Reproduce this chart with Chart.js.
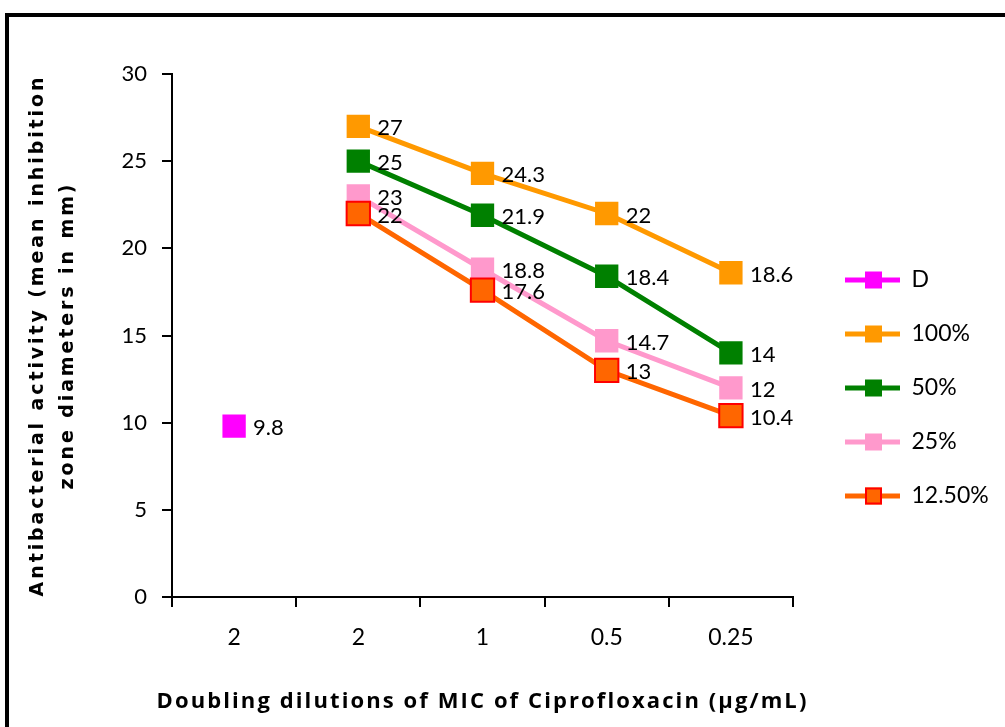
<!DOCTYPE html>
<html lang="en">
<head>
  <meta charset="UTF-8" />
  <title>Antibacterial activity vs Ciprofloxacin dilutions</title>
  <script src="https://cdn.jsdelivr.net/npm/chart.js"></script>
  <style>
    html, body { margin: 0; padding: 0; background: #fff; overflow: hidden; }
    .wrap { position: relative; width: 1005px; height: 727px; }
    .frame {
      position: absolute;
      left: 5px;
      top: 13px;
      width: 1100px;
      height: 800px;
      border: 4px solid #000;
    }
    #chart { position: absolute; left: 0; top: 0; }
  </style>
</head>
<body>
  <div class="wrap">
    <div class="frame"></div>
    <canvas id="chart" width="1005" height="727"></canvas>
  </div>

  <script>
    // data
    const categories = ["2", "2", "1", "0.5", "0.25"];
    const seriesNames = ["D", "100%", "50%", "25%", "12.50%"];
    const valuesD = [9.8, null, null, null, null];
    const values100 = [null, 27, 24.3, 22, 18.6];
    const values50 = [null, 25, 21.9, 18.4, 14];
    const values25 = [null, 23, 18.8, 14.7, 12];
    const values12 = [null, 22, 17.6, 13, 10.4];
    const yTicks = [0, 5, 10, 15, 20, 25, 30];

    const colors = ["#ff00ff", "#ff9900", "#008000", "#ff99cc", "#ff6600"];
    const markerBorders = ["#ff00ff", "#ff9900", "#008000", "#ff99cc", "#ff0000"];
    const allValues = [valuesD, values100, values50, values25, values12];

    // small canvas icon: line with a square on it, like the Excel legend
    function legendIcon(i) {
      const c = document.createElement("canvas");
      c.width = 76; c.height = 24;
      const g = c.getContext("2d");
      g.strokeStyle = colors[i];
      g.lineWidth = 5;
      g.beginPath(); g.moveTo(21, 12); g.lineTo(76, 12); g.stroke();
      g.fillStyle = colors[i];
      g.fillRect(41, 3.5, 17, 17);
      if (markerBorders[i] !== colors[i]) {
        g.strokeStyle = markerBorders[i];
        g.lineWidth = 2;
        g.strokeRect(42, 4.5, 15, 15);
      }
      return c;
    }

    // value labels next to each point
    const valueLabels = {
      id: "valueLabels",
      afterDatasetsDraw(chart) {
        const ctx = chart.ctx;
        ctx.save();
        ctx.font = "22px Lato";
        ctx.fillStyle = "#000";
        ctx.textAlign = "left";
        ctx.textBaseline = "middle";
        chart.data.datasets.forEach((ds, i) => {
          const meta = chart.getDatasetMeta(i);
          meta.data.forEach((pt, j) => {
            const v = ds.data[j];
            if (v === null || v === undefined) return;
            ctx.fillText(String(v), pt.x + 19, pt.y + 2);
          });
        });
        ctx.restore();
      }
    };

    // spaced-out axis titles, allowed to run wider than the plot area
    const titleSpacing = {
      id: "titleSpacing",
      beforeDraw(chart) {
        const spacing = { x: "2.1px", y: "2.9px" };
        Object.keys(spacing).forEach(id => {
          const s = chart.scales[id];
          if (!s || s._spaced) return;
          const orig = s.drawTitle;
          s.drawTitle = function () {
            const ctx = this.ctx;
            const fill = ctx.fillText;
            ctx.fillText = (t, x, y) => fill.call(ctx, t, x, y);
            ctx.save();
            ctx.letterSpacing = spacing[id];
            orig.apply(this, arguments);
            ctx.restore();
            delete ctx.fillText;
          };
          s._spaced = true;
        });
      }
    };

    const datasets = seriesNames.map((name, i) => ({
      label: name,
      data: allValues[i],
      borderColor: colors[i],
      backgroundColor: colors[i],
      borderWidth: 5,
      pointStyle: "rect",
      pointRadius: 16.5,
      pointHoverRadius: 16.5,
      pointBackgroundColor: colors[i],
      pointBorderColor: markerBorders[i],
      pointBorderWidth: markerBorders[i] !== colors[i] ? 2 : 0,
      tension: 0,
      spanGaps: false,
      order: seriesNames.length - 1 - i
    }));

    new Chart(document.getElementById("chart"), {
      type: "line",
      data: { labels: categories, datasets: datasets },
      options: {
        responsive: false,
        animation: false,
        layout: { padding: { left: 0, right: 12, top: 74, bottom: 25 } },
        plugins: {
          tooltip: { enabled: false },
          legend: {
            position: "right",
            maxWidth: 200,
            labels: {
              usePointStyle: true,
              pointStyleWidth: 76,
              padding: 31,
              color: "#000",
              font: { family: "Lato", size: 23 },
              generateLabels: chart => chart.data.datasets.map((ds, i) => ({
                text: ds.label,
                pointStyle: legendIcon(i),
                fillStyle: colors[i],
                strokeStyle: colors[i],
                lineWidth: 0,
                fontColor: "#000",
                hidden: false,
                datasetIndex: i
              }))
            }
          }
        },
        scales: {
          x: {
            offset: true,
            grid: {
              offset: true,
              drawOnChartArea: false,
              drawTicks: true,
              tickLength: 10,
              color: "#000",
              lineWidth: 2
            },
            border: { display: true, color: "#000", width: 2 },
            ticks: {
              color: "#000",
              padding: 17,
              font: { family: "Lato", size: 23 }
            },
            title: {
              display: true,
              text: "Doubling dilutions of MIC of Ciprofloxacin (\u00b5g/mL)",
              color: "#000",
              font: { family: "Open Sans", size: 22, weight: "bold" },
              padding: { top: 0, bottom: -13 }
            },
            afterFit: s => { s.height = 105; }
          },
          y: {
            min: yTicks[0],
            max: yTicks[yTicks.length - 1],
            afterBuildTicks: s => { s.ticks = yTicks.map(v => ({ value: v })); },
            grid: {
              drawOnChartArea: false,
              drawTicks: true,
              tickLength: 10,
              color: "#000",
              lineWidth: 2
            },
            border: { display: true, color: "#000", width: 2 },
            ticks: {
              color: "#000",
              padding: 15,
              font: { family: "Lato", size: 22 }
            },
            title: {
              display: true,
              text: ["Antibacterial activity (mean inhibition", "zone diameters in mm)"],
              color: "#000",
              font: { family: "DejaVu Sans", size: 19, weight: "bold", lineHeight: 30 / 19 },
              padding: { top: 23, bottom: 0 }
            },
            afterFit: s => { s.width = 172; }
          }
        }
      },
      plugins: [valueLabels, titleSpacing]
    });
  </script>
</body>
</html>
